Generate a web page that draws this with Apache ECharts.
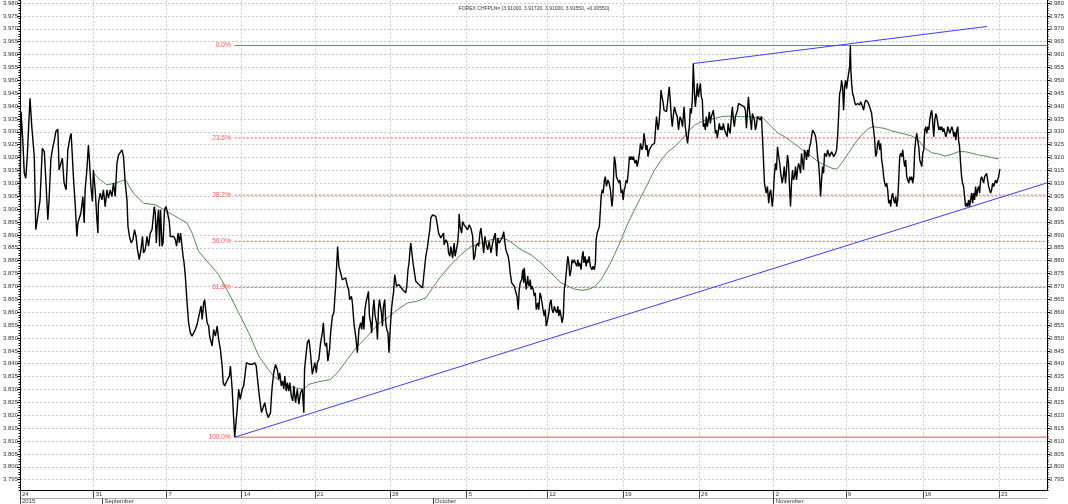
<!DOCTYPE html>
<html>
<head>
<meta charset="utf-8">
<title>FOREX CHFPLN=</title>
<script src="https://cdn.jsdelivr.net/npm/echarts@6/dist/echarts.min.js"></script>
<style>
html, body { margin: 0; padding: 0; background: #fff; }
#main { width: 1068px; height: 504px; }
</style>
</head>
<body>
<div id="main"></div>
<script>
// x unit = 4-hour bar counted from Mon 24 Aug 2015
var titleText = 'FOREX CHFPLN= (3.91000, 3.91720, 3.91000, 3.91550, +0.00550)';

var weekTicks  = [0, 29.4, 58.5, 88.5, 117.7, 147.7, 178.3, 210.5, 240.7, 271.1, 300.9, 329.7, 360.4, 390.8];
var weekLabels = ['24', '31', '7', '14', '21', '28', '5', '12', '19', '26', '2', '9', '16', '23'];
var monthTicks  = [0, 32.9, 164.8, 300.9];
var monthLabels = ['2015', 'September', 'October', 'November'];

var yTicks = [3.795, 3.800, 3.805, 3.810, 3.815, 3.820, 3.825, 3.830, 3.835, 3.840,
              3.845, 3.850, 3.855, 3.860, 3.865, 3.870, 3.875, 3.880, 3.885, 3.890,
              3.895, 3.900, 3.905, 3.910, 3.915, 3.920, 3.925, 3.930, 3.935, 3.940,
              3.945, 3.950, 3.955, 3.960, 3.965, 3.970, 3.975, 3.980];

// close prices [bar, price]
var chfpln = [
[0,3.9049],[0.4,3.9378],[1.1,3.9268],[1.7,3.9139],[2.3,3.9120],[2.9,3.9204],[3.5,3.9333],[4.0,3.9430],[4.7,3.9320],[5.3,3.9314],
[5.7,3.9204],[6.3,3.8920],[6.8,3.8952],[7.3,3.8946],[8.0,3.9036],[8.9,3.9236],[9.7,3.9223],[10.3,3.9114],[11.1,3.8959],[11.6,3.9036],
[12.3,3.9191],[12.9,3.9230],[13.6,3.9262],[14.3,3.9301],[15.1,3.9310],[15.6,3.9152],[16.3,3.9159],[16.9,3.9198],[17.6,3.9101],[18.4,3.9075],
[19.1,3.9230],[20.0,3.9281],[20.4,3.9294],[20.9,3.9204],[21.3,3.9127],[22.0,3.9023],[22.7,3.8894],[23.1,3.8946],[23.7,3.8940],[24.3,3.8985],
[25.1,3.9049],[25.6,3.8946],[26.0,3.9075],[26.7,3.9152],[27.3,3.9249],[27.7,3.9191],[28.3,3.9088],[28.9,3.9030],[29.3,3.9152],[30.0,3.9075],
[30.7,3.8959],[31.1,3.8907],[31.3,3.9023],[32.0,3.9062],[32.7,3.9036],[33.3,3.9075],[34.0,3.9010],[34.7,3.9075],[35.3,3.9043],[36.0,3.9075],
[36.7,3.9049],[37.3,3.9101],[38.0,3.9049],[38.7,3.9178],[39.3,3.9210],[40.0,3.9217],[40.7,3.9230],[41.3,3.9204],[42.0,3.9101],[42.7,3.9036],
[43.1,3.8933],[43.7,3.8894],[44.4,3.8869],[45.1,3.8882],[45.7,3.8920],[46.3,3.8894],[46.9,3.8843],[47.6,3.8804],[48.3,3.8843],[48.9,3.8894],
[49.3,3.8830],[50.0,3.8843],[50.7,3.8894],[51.3,3.8856],[52.0,3.8907],[52.7,3.8920],[53.2,3.8920],[53.6,3.9010],[54.0,3.8985],[54.4,3.8869],
[54.8,3.8946],[55.3,3.8998],[55.7,3.8856],[56.1,3.8998],[56.7,3.8856],[57.1,3.8869],[57.7,3.8998],[58.3,3.9010],[58.9,3.8985],[59.6,3.8952],
[60.0,3.8894],[60.7,3.8888],[61.3,3.8894],[62.0,3.8882],[62.5,3.8856],[63.1,3.8907],[63.6,3.8869],[64.1,3.8907],[64.7,3.8907],[65.1,3.8817],
[65.5,3.8791],[66.0,3.8740],[66.7,3.8636],[67.3,3.8559],[68.0,3.8520],[68.7,3.8507],[69.3,3.8507],[70.0,3.8533],[70.7,3.8553],[71.3,3.8559],
[71.7,3.8598],[72.3,3.8624],[72.7,3.8572],[73.1,3.8611],[73.3,3.8636],[73.7,3.8649],[74.1,3.8611],[74.7,3.8559],[75.3,3.8546],[75.7,3.8507],
[76.3,3.8501],[76.7,3.8469],[77.3,3.8533],[78.0,3.8507],[78.7,3.8546],[79.3,3.8495],[80.0,3.8456],[80.7,3.8391],[81.1,3.8327],[81.7,3.8314],
[82.3,3.8327],[82.9,3.8327],[83.6,3.8353],[84.0,3.8391],[84.7,3.8301],[85.1,3.8224],[85.7,3.8115],[86.3,3.8120],[86.7,3.8224],[87.3,3.8301],
[87.9,3.8262],[88.7,3.8301],[89.3,3.8314],[90.0,3.8314],[90.4,3.8404],[91.1,3.8404],[91.6,3.8398],[92.3,3.8404],[92.9,3.8398],[93.7,3.8404],
[94.3,3.8391],[95.1,3.8314],[95.7,3.8262],[96.4,3.8211],[97.1,3.8211],[97.7,3.8249],[98.4,3.8211],[99.1,3.8191],[100.0,3.8210],[100.3,3.8262],
[100.7,3.8314],[101.3,3.8365],[102.0,3.8397],[102.7,3.8378],[103.3,3.8339],[103.7,3.8365],[104.3,3.8314],[104.8,3.8333],[105.3,3.8301],[105.7,3.8352],
[106.3,3.8294],[106.7,3.8327],[107.3,3.8294],[107.7,3.8327],[108.3,3.8275],[108.9,3.8256],[109.3,3.8314],[110.0,3.8249],[110.7,3.8301],[111.3,3.8243],
[112.0,3.8288],[112.7,3.8301],[113.3,3.8210],[113.6,3.8378],[114.0,3.8417],[114.7,3.8481],[115.3,3.8494],[115.7,3.8468],[116.3,3.8404],[116.7,3.8359],
[117.3,3.8365],[117.7,3.8404],[118.3,3.8365],[118.7,3.8404],[119.3,3.8417],[120.0,3.8481],[120.7,3.8520],[121.1,3.8559],[121.6,3.8481],[122.0,3.8468],
[122.4,3.8481],[122.9,3.8410],[123.6,3.8456],[124.0,3.8520],[124.7,3.8585],[125.3,3.8597],[126.0,3.8701],[126.4,3.8778],[126.8,3.8855],[127.3,3.8778],
[128.0,3.8752],[128.7,3.8726],[129.3,3.8720],[130.0,3.8733],[130.7,3.8701],[131.2,3.8688],[131.6,3.8649],[132.3,3.8662],[132.7,3.8636],[133.3,3.8559],
[134.0,3.8507],[134.7,3.8443],[135.3,3.8533],[136.0,3.8559],[136.4,3.8533],[136.9,3.8585],[137.3,3.8533],[137.7,3.8610],[138.1,3.8636],[138.7,3.8662],
[139.1,3.8681],[139.5,3.8585],[140.0,3.8559],[140.4,3.8520],[140.9,3.8610],[141.3,3.8649],[141.7,3.8591],[142.3,3.8559],[142.7,3.8494],[143.1,3.8610],
[143.5,3.8649],[143.7,3.8636],[144.3,3.8597],[144.7,3.8546],[145.1,3.8623],[145.6,3.8649],[146.0,3.8559],[146.4,3.8533],[146.9,3.8520],[147.3,3.8443],
[147.7,3.8520],[148.3,3.8610],[148.7,3.8649],[149.1,3.8675],[149.6,3.8746],[150.3,3.8701],[150.7,3.8694],[151.3,3.8707],[152.0,3.8701],[152.7,3.8688],
[153.3,3.8694],[154.0,3.8675],[154.4,3.8701],[154.9,3.8765],[155.3,3.8791],[155.7,3.8842],[156.0,3.8868],[156.4,3.8875],[156.9,3.8791],[157.3,3.8765],
[158.0,3.8720],[158.7,3.8726],[159.3,3.8707],[160.0,3.8701],[160.7,3.8694],[161.3,3.8752],[162.0,3.8817],[162.7,3.8855],[163.2,3.8894],[163.6,3.8920],
[164.0,3.8965],[164.7,3.8978],[165.3,3.8984],[166.0,3.8972],[166.7,3.8933],[167.1,3.8907],[167.6,3.8901],[168.0,3.8888],[168.7,3.8881],[169.1,3.8907],
[169.3,3.8862],[170.0,3.8881],[170.7,3.8868],[171.1,3.8830],[171.6,3.8817],[172.0,3.8855],[172.7,3.8810],[173.3,3.8868],[173.7,3.8817],[174.3,3.8810],
[174.7,3.8868],[175.1,3.8913],[175.3,3.8982],[175.7,3.8933],[176.3,3.8907],[176.7,3.8952],[177.3,3.8939],[178.0,3.8946],[178.7,3.8920],[179.3,3.8939],
[180.0,3.8926],[180.7,3.8894],[181.1,3.8804],[181.6,3.8817],[182.0,3.8855],[182.7,3.8868],[183.1,3.8855],[183.6,3.8907],[184.0,3.8926],[184.7,3.8868],
[185.1,3.8830],[185.6,3.8894],[186.0,3.8868],[186.7,3.8842],[187.3,3.8875],[188.0,3.8830],[188.7,3.8868],[189.3,3.8894],[189.7,3.8907],[190.3,3.8817],
[190.7,3.8888],[191.3,3.8868],[192.0,3.8881],[192.7,3.8894],[193.1,3.8913],[193.6,3.8868],[194.0,3.8842],[194.4,3.8830],[194.9,3.8817],[195.3,3.8791],
[195.7,3.8752],[196.3,3.8714],[196.7,3.8707],[197.3,3.8701],[198.4,3.8662],[198.9,3.8610],[199.3,3.8688],[199.7,3.8714],[200.3,3.8727],[200.7,3.8765],
[201.1,3.8714],[201.3,3.8772],[201.7,3.8727],[202.1,3.8688],[202.7,3.8740],[202.9,3.8714],[203.3,3.8701],[203.7,3.8727],[204.0,3.8688],[204.4,3.8701],
[204.9,3.8688],[205.3,3.8662],[205.7,3.8675],[206.1,3.8610],[206.7,3.8636],[207.1,3.8610],[207.6,3.8675],[208.0,3.8662],[208.4,3.8636],[208.8,3.8610],
[209.3,3.8585],[209.7,3.8610],[210.1,3.8546],[210.7,3.8572],[211.1,3.8597],[211.6,3.8636],[212.0,3.8649],[212.4,3.8610],[212.9,3.8597],[213.3,3.8623],
[213.7,3.8610],[214.3,3.8597],[214.7,3.8623],[215.1,3.8585],[215.5,3.8610],[216.0,3.8585],[216.4,3.8559],[216.9,3.8585],[217.3,3.8688],[217.7,3.8714],
[218.3,3.8778],[218.7,3.8817],[219.1,3.8791],[219.5,3.8740],[220.0,3.8765],[220.4,3.8804],[220.8,3.8791],[221.3,3.8804],[221.7,3.8791],[222.3,3.8778],
[222.7,3.8804],[223.1,3.8778],[223.5,3.8791],[224.0,3.8765],[224.4,3.8817],[224.8,3.8836],[225.1,3.8791],[225.6,3.8817],[226.0,3.8778],[226.4,3.8804],
[226.7,3.8791],[227.2,3.8817],[227.7,3.8778],[228.3,3.8765],[228.8,3.8778],[229.3,3.8765],[229.7,3.8791],[230.0,3.8881],[230.4,3.8907],[230.8,3.8907],
[231.3,3.8933],[231.7,3.8997],[232.0,3.9049],[232.4,3.9075],[232.8,3.9062],[233.3,3.9113],[233.7,3.9126],[234.1,3.9088],[234.7,3.9113],[235.2,3.9101],
[235.7,3.9075],[236.3,3.9010],[236.7,3.9049],[237.1,3.9165],[237.3,3.9204],[237.7,3.9178],[238.1,3.9126],[238.7,3.9126],[239.1,3.9101],[239.5,3.9113],
[240.0,3.9062],[240.4,3.9075],[240.8,3.9036],[241.2,3.9075],[241.6,3.9088],[242.0,3.9113],[242.4,3.9101],[242.9,3.9152],[243.3,3.9204],[243.7,3.9191],
[244.1,3.9204],[244.5,3.9191],[244.9,3.9204],[245.5,3.9178],[246.0,3.9191],[246.4,3.9165],[246.9,3.9191],[247.3,3.9217],[247.7,3.9255],[248.3,3.9230],
[248.7,3.9242],[249.1,3.9294],[249.5,3.9268],[249.9,3.9230],[250.3,3.9249],[250.7,3.9204],[251.2,3.9230],[251.7,3.9236],[252.3,3.9249],[252.8,3.9242],
[253.3,3.9255],[253.7,3.9307],[254.1,3.9359],[254.7,3.9307],[255.1,3.9333],[255.5,3.9384],[255.9,3.9462],[256.3,3.9436],[256.7,3.9417],[257.1,3.9384],
[257.6,3.9391],[258.1,3.9378],[258.7,3.9384],[259.2,3.9475],[259.6,3.9423],[260.0,3.9359],[260.4,3.9320],[260.9,3.9371],[261.3,3.9397],[261.9,3.9371],
[262.4,3.9359],[262.9,3.9307],[263.5,3.9359],[264.0,3.9346],[264.5,3.9320],[265.1,3.9397],[265.6,3.9320],[266.1,3.9281],[266.5,3.9255],[266.9,3.9294],
[267.3,3.9333],[267.6,3.9391],[268.0,3.9371],[268.4,3.9423],[268.8,3.9565],[269.2,3.9462],[269.6,3.9397],[270.0,3.9436],[270.4,3.9488],[270.8,3.9436],
[271.2,3.9462],[271.6,3.9488],[272.0,3.9436],[272.4,3.9423],[272.8,3.9320],[273.2,3.9333],[273.6,3.9307],[274.0,3.9359],[274.4,3.9320],[274.8,3.9346],
[275.2,3.9378],[275.6,3.9333],[276.0,3.9359],[276.4,3.9371],[276.8,3.9384],[277.2,3.9346],[277.6,3.9294],[278.0,3.9307],[278.4,3.9275],[278.8,3.9307],
[279.2,3.9333],[279.6,3.9307],[280.0,3.9320],[280.4,3.9307],[280.8,3.9333],[281.3,3.9307],[281.9,3.9314],[282.3,3.9281],[282.7,3.9333],[283.1,3.9307],
[283.5,3.9294],[284.0,3.9359],[284.4,3.9397],[284.8,3.9346],[285.2,3.9320],[285.6,3.9359],[286.0,3.9371],[286.4,3.9384],[286.9,3.9410],[287.5,3.9404],
[288.0,3.9404],[288.5,3.9410],[289.1,3.9397],[289.6,3.9384],[290.0,3.9314],[290.4,3.9307],[290.8,3.9436],[291.2,3.9384],[291.6,3.9346],[292.0,3.9307],
[292.4,3.9371],[292.8,3.9378],[293.2,3.9346],[293.6,3.9307],[294.0,3.9326],[294.4,3.9359],[294.9,3.9352],[295.5,3.9346],[296.0,3.9359],[296.4,3.9281],
[296.8,3.9191],[297.2,3.9101],[297.9,3.9062],[298.4,3.9088],[298.9,3.9023],[299.3,3.9062],[299.7,3.9075],[300.3,3.9010],[300.7,3.9049],[301.1,3.9126],
[301.6,3.9178],[302.0,3.9152],[302.4,3.9242],[302.9,3.9204],[303.3,3.9178],[303.7,3.9139],[304.3,3.9101],[304.7,3.9126],[305.1,3.9165],[305.6,3.9101],
[306.0,3.9152],[306.4,3.9210],[306.8,3.9178],[307.2,3.9088],[307.6,3.9010],[308.0,3.9101],[308.4,3.9152],[308.8,3.9113],[309.2,3.9126],[309.6,3.9165],
[310.0,3.9113],[310.4,3.9152],[310.8,3.9178],[311.2,3.9165],[311.6,3.9139],[312.0,3.9217],[312.4,3.9184],[312.8,3.9152],[313.2,3.9230],[313.6,3.9217],
[314.0,3.9191],[314.4,3.9230],[314.8,3.9204],[315.2,3.9242],[315.6,3.9255],[316.0,3.9281],[316.4,3.9307],[316.8,3.9300],[317.2,3.9294],[317.6,3.9281],
[318.0,3.9255],[318.4,3.9204],[318.8,3.9178],[319.2,3.9126],[319.6,3.9049],[320.0,3.9113],[320.4,3.9165],[320.8,3.9139],[321.2,3.9217],[321.6,3.9217],
[322.0,3.9204],[322.4,3.9230],[322.8,3.9217],[323.2,3.9204],[323.6,3.9210],[324.0,3.9223],[324.4,3.9217],[324.8,3.9204],[325.2,3.9210],[325.6,3.9217],
[326.0,3.9230],[326.4,3.9281],[326.8,3.9359],[327.2,3.9449],[327.6,3.9462],[328.0,3.9500],[328.4,3.9475],[328.8,3.9384],[329.2,3.9475],[329.6,3.9500],
[330.0,3.9468],[330.4,3.9500],[330.8,3.9526],[331.2,3.9552],[331.5,3.9635],[331.7,3.9539],[332.0,3.9488],[332.4,3.9449],[332.8,3.9436],[333.2,3.9417],
[333.6,3.9404],[334.0,3.9397],[334.4,3.9410],[334.8,3.9417],[335.2,3.9404],[335.6,3.9417],[336.0,3.9410],[336.4,3.9397],[336.8,3.9384],[337.2,3.9410],
[337.6,3.9423],[338.0,3.9430],[338.4,3.9417],[338.8,3.9423],[339.2,3.9397],[339.6,3.9384],[340.0,3.9371],[340.4,3.9333],[340.8,3.9307],[341.2,3.9268],
[341.6,3.9204],[342.0,3.9217],[342.4,3.9255],[342.8,3.9268],[343.2,3.9230],[343.6,3.9255],[344.0,3.9191],[344.4,3.9165],[344.8,3.9126],[345.2,3.9101],
[345.6,3.9088],[346.0,3.9101],[346.4,3.9075],[346.8,3.9023],[347.2,3.9036],[347.6,3.9010],[348.0,3.9049],[348.4,3.9062],[348.8,3.9036],[349.2,3.9023],
[349.6,3.9049],[350.0,3.9010],[350.4,3.9036],[350.8,3.9113],[351.2,3.9204],[351.6,3.9217],[352.0,3.9204],[352.4,3.9230],[352.8,3.9191],[353.2,3.9165],
[353.6,3.9191],[354.0,3.9126],[354.4,3.9126],[354.8,3.9101],[355.2,3.9126],[355.6,3.9113],[356.0,3.9126],[356.4,3.9101],[356.8,3.9126],[357.2,3.9230],
[357.6,3.9268],[358.0,3.9294],[358.4,3.9268],[358.8,3.9242],[359.2,3.9191],[359.6,3.9178],[360.0,3.9165],[360.4,3.9217],[360.8,3.9230],[361.2,3.9307],
[361.6,3.9320],[362.0,3.9294],[362.4,3.9320],[362.8,3.9307],[363.2,3.9346],[363.6,3.9371],[364.0,3.9384],[364.4,3.9333],[364.8,3.9281],[365.2,3.9346],
[365.6,3.9371],[366.0,3.9359],[366.4,3.9333],[366.8,3.9307],[367.2,3.9320],[367.6,3.9307],[368.0,3.9320],[368.4,3.9300],[368.8,3.9313],[369.2,3.9307],
[369.6,3.9281],[370.0,3.9294],[370.4,3.9320],[370.8,3.9307],[371.2,3.9294],[371.6,3.9300],[372.0,3.9320],[372.4,3.9307],[372.8,3.9281],[373.2,3.9300],
[373.6,3.9268],[374.0,3.9307],[374.4,3.9320],[374.7,3.9268],[375.1,3.9242],[375.5,3.9178],[375.9,3.9126],[376.3,3.9101],[376.7,3.9088],[377.1,3.9049],
[377.5,3.9010],[377.9,3.9023],[378.3,3.9010],[378.7,3.9036],[379.1,3.9010],[379.5,3.9010],[379.9,3.9062],[380.3,3.9023],[380.7,3.9062],[381.1,3.9036],
[381.5,3.9088],[381.9,3.9049],[382.3,3.9075],[382.7,3.9088],[383.1,3.9062],[383.5,3.9113],[383.9,3.9126],[384.3,3.9113],[384.7,3.9101],[385.1,3.9126],
[385.5,3.9133],[385.9,3.9139],[386.3,3.9113],[386.7,3.9088],[387.1,3.9075],[387.5,3.9062],[387.9,3.9075],[388.3,3.9101],[388.7,3.9088],[389.1,3.9088],
[389.5,3.9113],[389.9,3.9101],[390.3,3.9113],[390.7,3.9126],[391.1,3.9152],[391.3,3.9155]
];

// moving average [bar, value]
var movAvg = [
[29.3,3.9140],[32.0,3.9114],[34.7,3.9094],[38.0,3.9101],[42.0,3.9114],[45.3,3.9062],[49.3,3.9023],[54.0,3.9017],[58.7,3.8991],[63.3,3.8965],
[66.7,3.8946],[68.7,3.8907],[71.3,3.8836],[75.3,3.8791],[79.3,3.8746],[83.3,3.8675],[87.3,3.8598],[91.3,3.8520],[95.3,3.8430],[99.1,3.8378],
[101.3,3.8352],[105.3,3.8320],[109.3,3.8307],[113.3,3.8301],[115.3,3.8320],[118.7,3.8329],[124.0,3.8339],[126.7,3.8365],[130.7,3.8417],[134.7,3.8468],
[138.7,3.8507],[142.7,3.8552],[146.7,3.8578],[150.7,3.8610],[154.7,3.8636],[158.7,3.8643],[162.0,3.8656],[164.7,3.8694],[168.0,3.8739],[172.0,3.8784],
[176.0,3.8823],[180.0,3.8855],[184.0,3.8868],[188.0,3.8881],[192.0,3.8888],[194.7,3.8881],[197.3,3.8862],[200.0,3.8843],[204.0,3.8823],[208.0,3.8791],
[212.0,3.8752],[216.0,3.8714],[218.7,3.8701],[221.3,3.8690],[224.0,3.8685],[226.7,3.8688],[229.3,3.8698],[232.0,3.8727],[234.7,3.8772],[237.3,3.8823],
[240.0,3.8881],[242.7,3.8946],[245.3,3.8997],[248.0,3.9049],[250.7,3.9101],[253.3,3.9152],[256.0,3.9191],[258.7,3.9223],[261.3,3.9242],[264.0,3.9268],
[266.7,3.9301],[269.3,3.9326],[272.0,3.9339],[274.7,3.9348],[277.3,3.9352],[280.0,3.9359],[282.7,3.9361],[285.3,3.9359],[288.0,3.9359],[290.7,3.9359],
[293.3,3.9356],[296.0,3.9359],[300.0,3.9320],[302.7,3.9294],[305.3,3.9281],[308.0,3.9262],[310.7,3.9242],[313.3,3.9223],[316.0,3.9204],[318.7,3.9184],
[321.3,3.9171],[324.0,3.9159],[326.0,3.9155],[328.0,3.9178],[330.7,3.9217],[333.3,3.9255],[336.0,3.9288],[338.7,3.9313],[340.7,3.9320],[342.7,3.9317],
[345.3,3.9313],[348.0,3.9304],[350.7,3.9297],[353.3,3.9291],[356.0,3.9284],[358.7,3.9268],[361.3,3.9236],[364.0,3.9219],[366.7,3.9214],[369.3,3.9206],
[372.0,3.9213],[374.7,3.9223],[377.3,3.9223],[380.0,3.9217],[382.7,3.9210],[385.3,3.9206],[388.0,3.9200],[390.7,3.9195]
];

// fibonacci retracement, drawn from the low to the right edge
var fibHigh = 3.9635;
var fibLow = 3.8115;
var fibStart = 85.7;
var fibPct = [0, 23.6, 38.2, 50.0, 61.8, 100.0];

// trend lines [bar, price]
var supportLine = [[85.7, 3.8115], [410, 3.9102]];
var resistLine = [[268.8, 3.9565], [386.0, 3.9709]];

var xMin = 0, xMax = 410;
var yMin = 3.791, yMax = 3.981;

var FONT = 'Liberation Sans';
var gridDot = { color: '#c8c8c8', width: 1, type: [2, 2] };

function majorY(pos, withSplit) {
    return {
        type: 'value', position: pos, min: yMin, max: yMax, scale: true,
        axisLine: { show: true, lineStyle: { color: '#000', width: 1 } },
        axisTick: { show: true, length: 3, customValues: yTicks, lineStyle: { color: '#000' } },
        axisLabel: {
            customValues: yTicks, fontSize: 6, color: '#333', fontFamily: FONT, margin: 2,
            formatter: function (v) { return v.toFixed(3); }
        },
        splitLine: { show: withSplit, lineStyle: gridDot }
    };
}
function minorY(pos) {
    return {
        type: 'value', position: pos, min: yMin, max: yMax, interval: 0.001,
        axisLine: { show: true, lineStyle: { color: '#000', width: 1 } },
        axisTick: { show: true, length: 1.5, lineStyle: { color: '#000' } },
        axisLabel: { show: false },
        splitLine: { show: false }
    };
}

var series = [];

series.push({
    name: 'MA', type: 'line', data: movAvg, showSymbol: false, smooth: false,
    lineStyle: { color: '#4f8f4f', width: 1 }, z: 3, silent: true
});
series.push({
    name: 'CHFPLN', type: 'line', data: chfpln, showSymbol: false,
    lineStyle: { color: '#000', width: 1.4 }, z: 5, silent: true
});

fibPct.forEach(function (p) {
    var lvl = fibHigh - (fibHigh - fibLow) * p / 100;
    var solid = (p === 0 || p === 100);
    series.push({
        type: 'line', silent: true, z: 4, symbol: 'circle', symbolSize: 0,
        lineStyle: { color: '#ff4d4d', width: 1, type: solid ? 'solid' : [2, 2] },
        data: [
            { value: [fibStart, lvl], label: { show: true, position: 'left', distance: 4,
              formatter: p.toFixed(1) + '%', color: '#ff5c5c', fontSize: 6.5, fontFamily: FONT } },
            [xMax, lvl]
        ]
    });
});

[supportLine, resistLine].forEach(function (ln) {
    series.push({
        type: 'line', data: ln, showSymbol: false, silent: true, z: 4,
        lineStyle: { color: '#3d3dff', width: 1 }
    });
});

var chart = echarts.init(document.getElementById('main'));
chart.setOption({
    animation: false,
    backgroundColor: '#fff',
    title: {
        text: titleText, left: 'center', top: 1,
        textStyle: { fontSize: 5, fontWeight: 'normal', color: '#333', fontFamily: FONT }
    },
    grid: { left: 20, right: 21, top: 0, bottom: 13, containLabel: false },
    xAxis: [{
        type: 'value', min: xMin, max: xMax, position: 'bottom',
        axisLine: { show: true, onZero: false, lineStyle: { color: '#000' } },
        axisTick: { show: true, length: 8, customValues: weekTicks, lineStyle: { color: '#444' } },
        axisLabel: {
            customValues: weekTicks, fontSize: 6, color: '#333', fontFamily: FONT,
            margin: 1, align: 'left', padding: [0, 0, 0, 2],
            formatter: function (v) { return weekLabels[weekTicks.indexOf(v)]; }
        },
        splitLine: { show: true, lineStyle: gridDot }
    }, {
        type: 'value', min: xMin, max: xMax, position: 'bottom', offset: 8,
        axisLine: { show: true, onZero: false, lineStyle: { color: '#aaa' } },
        axisTick: { show: true, length: 6, customValues: monthTicks, lineStyle: { color: '#444' } },
        axisLabel: {
            customValues: monthTicks, fontSize: 6, color: '#333', fontFamily: FONT,
            margin: 0, align: 'left', padding: [0, 0, 0, 2],
            formatter: function (v) { return monthLabels[monthTicks.indexOf(v)]; }
        },
        splitLine: { show: false }
    }],
    yAxis: [majorY('left', true), minorY('left'), majorY('right', false), minorY('right')],
    series: series
});
</script>
</body>
</html>
